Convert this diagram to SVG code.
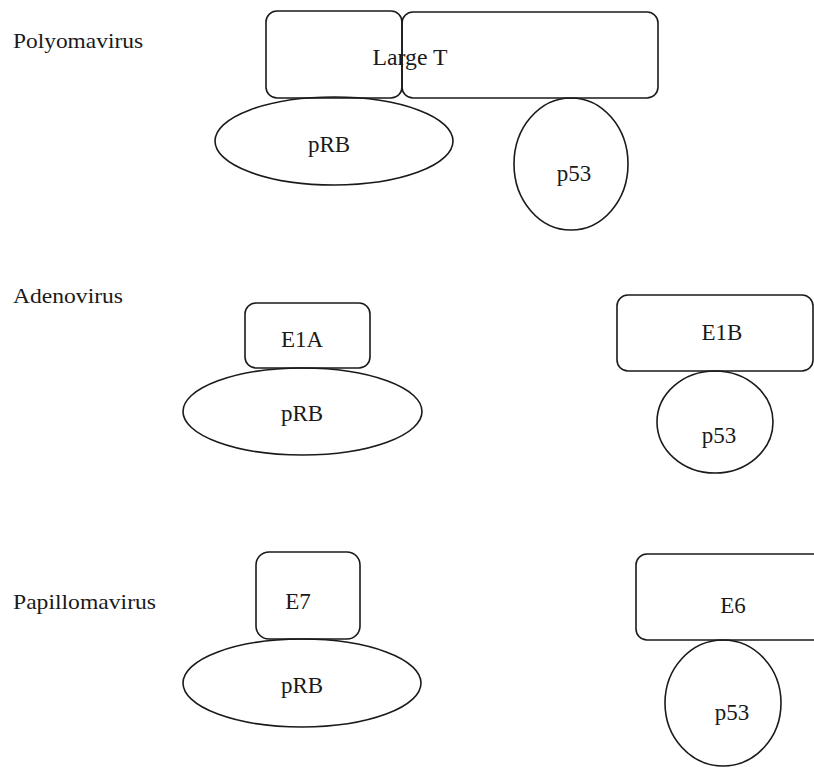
<svg xmlns="http://www.w3.org/2000/svg" width="814" height="768" viewBox="0 0 814 768">
  <style>
    .shape { fill: none; stroke: #1a1a1a; stroke-width: 1.6; }
    .lbl { font-family: "Liberation Serif", "Times New Roman", serif; font-size: 23px; fill: #1a1a1a; text-anchor: middle; }
    .virus { font-family: "Liberation Serif", "Times New Roman", serif; font-size: 21px; fill: #1a1a1a; }
  </style>
  <rect width="814" height="768" fill="#ffffff"/>

  <!-- virus family labels -->
  <g id="label-polyoma"><text class="virus" x="13" y="48" textLength="130" lengthAdjust="spacingAndGlyphs">Polyomavirus</text></g>
  <g id="label-adeno"><text class="virus" x="13" y="303" textLength="110" lengthAdjust="spacingAndGlyphs">Adenovirus</text></g>
  <g id="label-papilloma"><text class="virus" x="13" y="609" textLength="143" lengthAdjust="spacingAndGlyphs">Papillomavirus</text></g>

  <!-- Polyomavirus: Large T binds pRB and p53 -->
  <g id="largeT">
    <rect class="shape" x="266" y="11" width="136" height="87" rx="11"/>
    <rect class="shape" x="402" y="12" width="256" height="86" rx="11"/>
    <text class="lbl" x="410" y="65" textLength="75" lengthAdjust="spacingAndGlyphs">Large T</text>
  </g>
  <g id="pRB-polyoma">
    <ellipse class="shape" cx="334" cy="141" rx="119" ry="44"/>
    <text class="lbl" x="329" y="152">pRB</text>
  </g>
  <g id="p53-polyoma">
    <ellipse class="shape" cx="571" cy="164" rx="57" ry="66"/>
    <text class="lbl" x="574" y="181">p53</text>
  </g>

  <!-- Adenovirus: E1A binds pRB, E1B binds p53 -->
  <g id="E1A">
    <rect class="shape" x="245" y="303" width="125" height="65" rx="11"/>
    <text class="lbl" x="302" y="347">E1A</text>
  </g>
  <g id="pRB-adeno">
    <ellipse class="shape" cx="302.5" cy="411.5" rx="119.5" ry="43.5"/>
    <text class="lbl" x="302" y="421">pRB</text>
  </g>
  <g id="E1B">
    <rect class="shape" x="617" y="295" width="196" height="76" rx="11"/>
    <text class="lbl" x="722" y="340">E1B</text>
  </g>
  <g id="p53-adeno">
    <ellipse class="shape" cx="715" cy="422" rx="58" ry="51"/>
    <text class="lbl" x="719" y="443">p53</text>
  </g>

  <!-- Papillomavirus: E7 binds pRB, E6 binds p53 -->
  <g id="E7">
    <rect class="shape" x="256" y="552" width="104" height="87" rx="13"/>
    <text class="lbl" x="298" y="609">E7</text>
  </g>
  <g id="pRB-papilloma">
    <ellipse class="shape" cx="302" cy="683" rx="119" ry="44"/>
    <text class="lbl" x="302" y="693">pRB</text>
  </g>
  <g id="E6">
    <rect class="shape" x="636" y="554" width="190" height="86" rx="11"/>
    <text class="lbl" x="733" y="613">E6</text>
  </g>
  <g id="p53-papilloma">
    <ellipse class="shape" cx="723" cy="703" rx="58" ry="63"/>
    <text class="lbl" x="732" y="720">p53</text>
  </g>

  <g id="connectors"/>
</svg>
